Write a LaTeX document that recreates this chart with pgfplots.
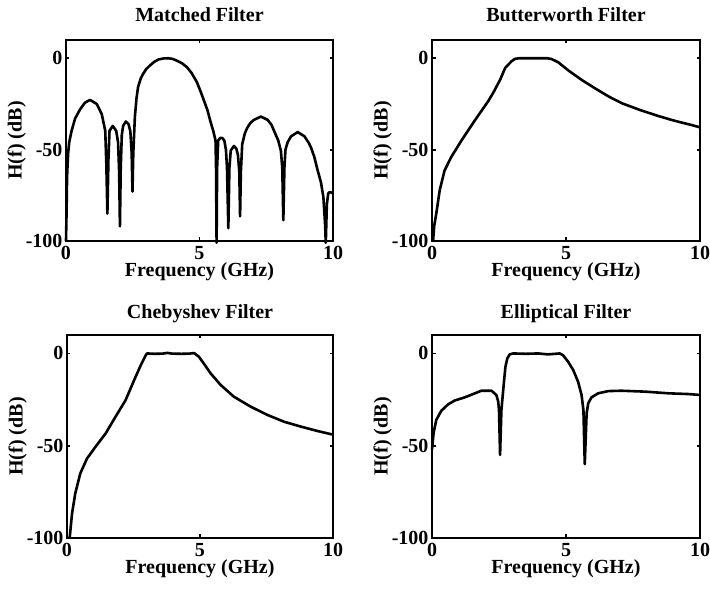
\documentclass[border=0pt]{standalone}
\usepackage{fontspec}
\setmainfont{Liberation Serif}
\usepackage{pgfplots}
\pgfplotsset{compat=1.18}
\usepackage{pgfplotstable}

\pgfplotstableread{
f db
0.00 -100
0.02 -85
0.04 -65
0.06 -58
0.08 -52
0.12 -46
0.21 -39.7
0.34 -33
0.53 -27.9
0.71 -24.3
0.90 -22.8
1.15 -25
1.34 -30.6
1.47 -39.7
1.51 -57.6
1.55 -85
1.59 -55
1.63 -39.7
1.75 -37
1.88 -39.7
1.95 -46
1.99 -62
2.02 -92
2.05 -60
2.09 -42
2.14 -37
2.24 -34.6
2.34 -36
2.41 -40
2.46 -52
2.49 -73
2.52 -52
2.58 -32
2.64 -22
2.70 -15.7
2.80 -11
2.89 -8.5
3.00 -6
3.14 -4
3.30 -2
3.46 -0.7
3.65 -0.1
3.84 0
4.00 -0.4
4.15 -1.3
4.35 -2.8
4.53 -4.9
4.70 -8
4.90 -13
5.05 -18.5
5.16 -22.9
5.30 -28.5
5.41 -34.6
5.52 -40
5.60 -45
5.62 -60
5.64 -101
5.66 -60
5.70 -45
5.78 -43.6
5.85 -43.6
5.93 -45
5.99 -50
6.03 -60
6.08 -93
6.12 -60
6.17 -50.5
6.29 -48
6.38 -49.5
6.44 -53
6.49 -62
6.52 -86.5
6.55 -62
6.60 -47
6.70 -41
6.79 -38
6.90 -35.5
7.04 -33.7
7.30 -31.9
7.55 -33.7
7.70 -36.5
7.80 -40
7.95 -45
8.05 -50.8
8.10 -60
8.14 -88.6
8.18 -60
8.22 -50
8.30 -46
8.43 -42.7
8.68 -40.4
8.93 -42.7
9.10 -46.5
9.18 -49
9.30 -54
9.43 -61.6
9.55 -68
9.64 -76
9.70 -90
9.73 -101
9.77 -80
9.82 -74
9.87 -73.3
9.95 -73.5
10.00 -74
}\matched

\pgfplotstableread{
f db
0.04 -100
0.08 -92
0.16 -85
0.29 -72
0.47 -61.4
0.72 -54
1.10 -45
1.60 -34
2.10 -23.4
2.30 -18.5
2.55 -11.5
2.73 -5.3
2.97 -1.6
3.10 -0.3
3.26 0
3.80 0
4.30 0
4.46 -0.4
4.71 -2.2
5.09 -6.7
5.60 -12
6.10 -16.6
6.60 -21
7.10 -24.7
7.76 -28.3
8.40 -31.4
9.00 -34
9.65 -36.4
10.00 -37.8
}\butter

\pgfplotstableread{
f db
0.10 -100
0.19 -86.7
0.31 -75.9
0.50 -65
0.75 -57
1.07 -50.6
1.45 -43.4
1.82 -34.4
2.20 -25.4
2.52 -14.6
2.77 -6.5
2.96 -1
3.01 0
3.30 -0.2
3.60 -0.1
3.77 0.3
3.95 -0.1
4.30 -0.2
4.60 -0.1
4.78 0.2
4.96 -1.8
5.14 -5.4
5.40 -10.8
5.77 -17
6.27 -23.4
6.90 -28.8
7.53 -33.3
8.16 -37
8.78 -39.6
9.41 -42
10.00 -44
}\cheby

\pgfplotstableread{
f db
0.00 -52
0.06 -43
0.16 -36
0.35 -31
0.60 -27.6
0.85 -25.5
1.22 -23.8
1.60 -21.6
1.84 -20.2
2.22 -20.2
2.40 -22.5
2.47 -26
2.50 -30.6
2.54 -55
2.59 -30.6
2.68 -16.2
2.74 -7.2
2.81 -2.7
2.90 -0.5
3.03 0
3.50 -0.2
3.96 0
4.33 -0.5
4.77 0
4.89 -1
5.08 -4.5
5.27 -9
5.45 -15.3
5.58 -22.5
5.65 -30.6
5.70 -60
5.77 -32.4
5.83 -27
5.95 -23.8
6.20 -21.6
6.58 -20.4
7.07 -20.2
7.95 -20.7
8.82 -21.6
9.56 -22
10.00 -22.5
}\ellip

\pgfplotsset{
  filt/.style={
    scale only axis,
    anchor=south west,
    xmin=0, xmax=10, ymin=-100, ymax=10,
    xtick={0,5,10}, xticklabels={0,5,10},
    ytick={-100,-50,0}, yticklabels={-100,-50,0},
    tick align=inside,
    major tick length=3.5pt,
    every tick/.style={black, line width=1.8pt},
    axis line style={line width=2.5pt},
    ticklabel style={font=\fontsize{20}{24}\selectfont\bfseries},
    xticklabel style={anchor=base, yshift=-18.5pt},
    label style={font=\fontsize{20}{24}\selectfont\bfseries},
    xlabel={Frequency (GHz)},
    ylabel={H(f) (dB)},
    xlabel style={at={(axis description cs:0.5,0)}, anchor=base, yshift=-35.5pt},
    ylabel style={at={(axis description cs:0,0.5)}, anchor=base, rotate=0, yshift=44.3pt},
    every axis title shift=0pt,
    title style={font=\fontsize{20}{24}\selectfont\bfseries, at={(axis description cs:0.5,1)}, anchor=base},
    clip=false,
  },
  crv/.style={black, line width=2.6pt, no marks, line join=round},
}

\begin{document}
\begin{tikzpicture}
\path[use as bounding box] (0,0) rectangle (710pt,593pt);
\begin{axis}[filt, at={(66pt,352pt)}, width=267pt, height=201pt, title={Matched Filter}, title style={yshift=18.5pt}]
\addplot[crv] table[x=f,y=db] {\matched};
\end{axis}
\begin{axis}[filt, at={(432pt,352pt)}, width=268pt, height=201pt, title={Butterworth Filter}, title style={yshift=18.5pt}]
\addplot[crv] table[x=f,y=db] {\butter};
\end{axis}
\begin{axis}[filt, at={(67pt,55pt)}, width=266pt, height=203pt, title={Chebyshev Filter}, title style={yshift=16.5pt}]
\addplot[crv] table[x=f,y=db] {\cheby};
\end{axis}
\begin{axis}[filt, at={(432pt,55pt)}, width=268pt, height=203pt, title={Elliptical Filter}, title style={yshift=16.5pt}]
\addplot[crv] table[x=f,y=db] {\ellip};
\end{axis}
\end{tikzpicture}
\end{document}
